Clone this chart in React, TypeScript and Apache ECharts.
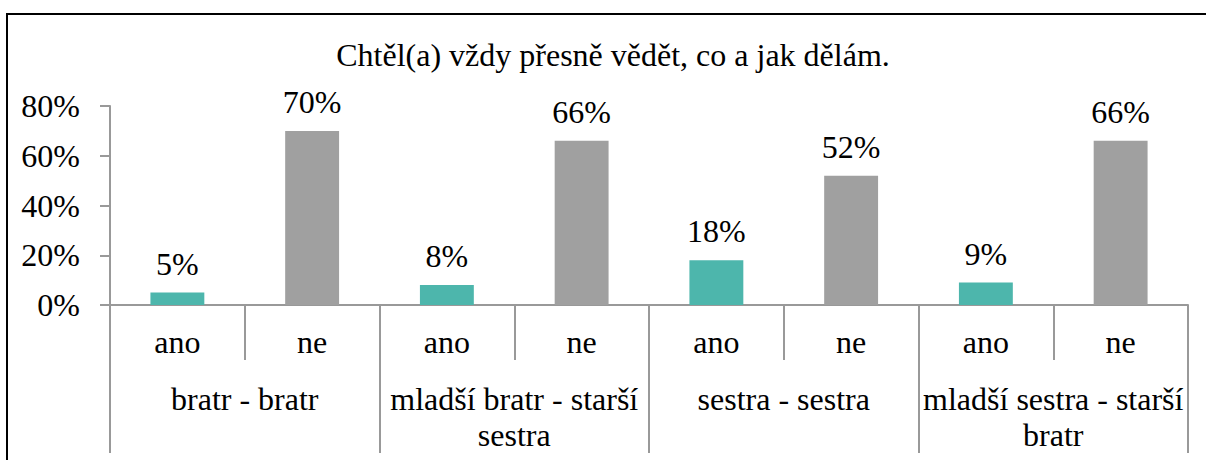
import React, { useEffect, useRef } from "react";
import * as echarts from "echarts";

const answers = ["ano", "ne", "ano", "ne", "ano", "ne", "ano", "ne"];
const groups = ["bratr - bratr", "mladší bratr - starší sestra", "sestra - sestra", "mladší sestra - starší bratr"];
const values = [5, 70, 8, 66, 18, 52, 9, 66];
const colors = ["#4DB6AC", "#A0A0A0"];
const titleText = "Chtěl(a) vždy přesně vědět, co a jak dělám.";

const FONT = "Liberation Serif";
const FS = 32;

// wrap long group names before their last word, as in the reference
const wrapGroup = (s: string) => {
  if (s.length <= 21) return s;
  const i = s.lastIndexOf(" ");
  return s.slice(0, i) + "\n" + s.slice(i + 1);
};

export default function App() {
  const ref = useRef<HTMLDivElement>(null);
  useEffect(() => {
    document.body.style.margin = "0";
    const chart = echarts.init(ref.current!, null, { renderer: "svg" });
    chart.setOption({
      animation: false,
      backgroundColor: "#ffffff",
      textStyle: { fontFamily: FONT },
      graphic: [
        {
          type: "polyline",
          shape: { points: [[7, 470], [7, 14], [1210, 14]] },
          style: { stroke: "#000", lineWidth: 2, fill: "none" },
          silent: true,
        },
        {
          type: "text",
          x: 613,
          y: 55,
          style: {
            text: titleText,
            fontFamily: FONT,
            fontSize: FS,
            fill: "#000",
            textAlign: "center",
            textVerticalAlign: "middle",
          },
        },
      ],
      grid: { left: 110, right: 18, top: 106, bottom: 155, containLabel: false },
      xAxis: [
        {
          type: "category",
          data: answers,
          position: "bottom",
          axisLine: { lineStyle: { color: "#999", width: 2 } },
          axisTick: { show: true, length: 55, lineStyle: { color: "#999", width: 2 } },
          axisLabel: { color: "#000", fontSize: FS, fontFamily: FONT, margin: 21, interval: 0 },
        },
        {
          type: "category",
          data: groups,
          position: "bottom",
          axisLine: { show: false },
          axisTick: { show: true, length: 148, lineStyle: { color: "#999", width: 2 } },
          axisLabel: {
            color: "#000",
            fontSize: FS,
            fontFamily: FONT,
            margin: 76,
            interval: 0,
            lineHeight: 36,
            formatter: (v: string) => wrapGroup(v),
          },
        },
      ],
      yAxis: {
        type: "value",
        min: 0,
        max: 80,
        interval: 20,
        splitLine: { show: false },
        axisLine: { show: true, lineStyle: { color: "#999", width: 2 } },
        axisTick: { show: true, length: 10, lineStyle: { color: "#999", width: 2 } },
        axisLabel: { color: "#000", fontSize: FS, fontFamily: FONT, margin: 30, formatter: "{value}%" },
      },
      series: [
        {
          type: "bar",
          xAxisIndex: 0,
          data: values.map((v, i) => ({ value: v, itemStyle: { color: colors[i % 2] } })),
          barWidth: "40%",
          label: {
            show: true,
            position: "top",
            distance: 13,
            formatter: "{c}%",
            color: "#000",
            fontSize: FS,
            fontFamily: FONT,
          },
        },
      ],
    });
    return () => chart.dispose();
  }, []);
  return <div ref={ref} style={{ width: 1206, height: 460 }} />;
}
